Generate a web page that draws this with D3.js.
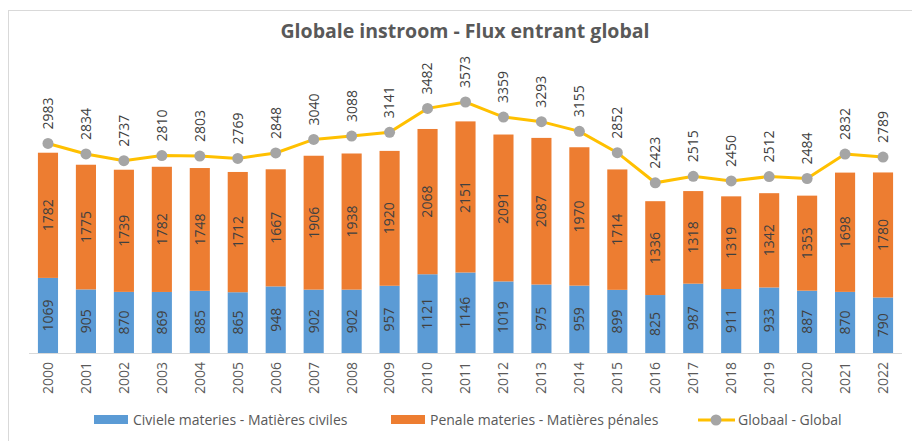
<!DOCTYPE html>
<html>
<head>
<meta charset="utf-8">
<script src="https://cdn.jsdelivr.net/npm/d3@7"></script>
<style>
	body { margin: 0; background: #fff; }
	text { font-family: "Open Sans", "Liberation Sans", sans-serif; }
</style>
</head>
<body>
<div id="container"></div>
<script>
// chart data
var years = ["2000","2001","2002","2003","2004","2005","2006","2007","2008","2009","2010","2011",
	"2012","2013","2014","2015","2016","2017","2018","2019","2020","2021","2022"];
var civiel = [1069,905,870,869,885,865,948,902,902,957,1121,1146,1019,975,959,899,825,987,911,933,887,870,790];
var penaal = [1782,1775,1739,1782,1748,1712,1667,1906,1938,1920,2068,2151,2091,2087,1970,1714,1336,1318,1319,1342,1353,1698,1780];
var globaal = [2983,2834,2737,2810,2803,2769,2848,3040,3088,3141,3482,3573,3359,3293,3155,2852,2423,2515,2450,2512,2484,2832,2789];
var seriesNames = ["Civiele materies - Matières civiles", "Penale materies - Matières pénales", "Globaal - Global"];

var width = 912, height = 441;
var blue = "#5b9bd5", orange = "#ed7d31", yellow = "#ffc000", grey = "#a5a5a5";

var svg = d3.select("#container").append("svg")
	.attr("width", width)
	.attr("height", height);

// outer frame
svg.append("rect")
	.attr("x", 8.5).attr("y", 10.5)
	.attr("width", 920).attr("height", 450)
	.style("fill", "none")
	.style("stroke", "#d9d9d9");

svg.append("text")
	.attr("x", 465)
	.attr("y", 38)
	.style("text-anchor", "middle")
	.style("font-size", "19.5px")
	.style("font-weight", "bold")
	.style("fill", "#595959")
	.text("Globale instroom - Flux entrant global");

var x = d3.scaleBand().domain(years).range([29, 902]).paddingInner(0.47).paddingOuter(0.235);
var y = d3.scaleLinear().domain([0, 3573]).range([353, 102]);

var data = years.map(function(yr, i) {
	return {year: yr, c: civiel[i], p: penaal[i], g: globaal[i]};
});

// stacked bars
var g = svg.append("g");
g.selectAll(".civ").data(data).enter()
	.append("rect")
	.attr("class", "civ")
	.attr("x", function(d) { return x(d.year); })
	.attr("width", x.bandwidth())
	.attr("y", function(d) { return y(d.c); })
	.attr("height", function(d) { return y(0) - y(d.c); })
	.style("fill", blue);

g.selectAll(".pen").data(data).enter()
	.append("rect")
	.attr("class", "pen")
	.attr("x", function(d) { return x(d.year); })
	.attr("width", x.bandwidth())
	.attr("y", function(d) { return y(d.c + d.p); })
	.attr("height", function(d) { return y(d.c) - y(d.c + d.p); })
	.style("fill", orange);

// axis line
var xAxis = d3.axisBottom(x).tickSize(0).tickPadding(0);
var ax = svg.append("g")
	.attr("transform", "translate(0,353)")
	.call(xAxis);
ax.select(".domain").attr("d", "M29,0.5H902").style("stroke", "#d9d9d9");
ax.selectAll(".tick text")
	.attr("transform", "rotate(-90)")
	.attr("x", -9).attr("y", 0).attr("dy", "0.35em")
	.style("text-anchor", "end")
	.style("font-size", "14px")
	.style("font-family", "'Open Sans', sans-serif")
	.style("fill", "#595959");

// bar labels
function vlabel(sel, cx, cy, txt) {
	sel.append("text")
		.attr("transform", "translate(" + cx + "," + cy + ") rotate(-90)")
		.attr("dy", "0.35em")
		.style("text-anchor", "middle")
		.style("font-size", "14px")
		.style("fill", "#404040")
		.text(txt);
}
data.forEach(function(d) {
	var cx = x(d.year) + x.bandwidth() / 2;
	vlabel(g, cx, (y(0) + y(d.c)) / 2, d.c);
	vlabel(g, cx, (y(d.c) + y(d.c + d.p)) / 2, d.p);
});

// global line
var line = d3.line()
	.x(function(d) { return x(d.year) + x.bandwidth() / 2; })
	.y(function(d) { return y(d.g); });
svg.append("path")
	.attr("d", line(data))
	.style("fill", "none")
	.style("stroke", yellow)
	.style("stroke-width", 3);
svg.selectAll(".dot").data(data).enter()
	.append("circle")
	.attr("class", "dot")
	.attr("cx", function(d) { return x(d.year) + x.bandwidth() / 2; })
	.attr("cy", function(d) { return y(d.g); })
	.attr("r", 5.5)
	.style("fill", grey);
svg.selectAll(".glab").data(data).enter()
	.append("text")
	.attr("class", "glab")
	.attr("transform", function(d) {
		return "translate(" + (x(d.year) + x.bandwidth() / 2) + "," + (y(d.g) - 14) + ") rotate(-90)";
	})
	.attr("dy", "0.35em")
	.style("text-anchor", "start")
	.style("font-size", "14px")
	.style("fill", "#404040")
	.text(function(d) { return d.g; });

// legend
var leg = svg.append("g").attr("transform", "translate(0,420)");
var legX = [94, 391, 698];
leg.append("rect").attr("x", legX[0]).attr("y", -5).attr("width", 34).attr("height", 9).style("fill", blue);
leg.append("rect").attr("x", legX[1]).attr("y", -5).attr("width", 34).attr("height", 9).style("fill", orange);
leg.append("line").attr("x1", legX[2]).attr("x2", legX[2] + 37).attr("y1", 0).attr("y2", 0)
	.style("stroke", yellow).style("stroke-width", 3);
leg.append("circle").attr("cx", legX[2] + 18).attr("cy", 0).attr("r", 5.5).style("fill", grey);
seriesNames.forEach(function(n, i) {
	leg.append("text")
		.attr("x", legX[i] + (i == 2 ? 40 : 39))
		.attr("y", 0)
		.attr("dy", "0.35em")
		.style("font-size", "14px")
		.style("fill", "#595959")
		.text(n);
});
</script>
</body>
</html>
